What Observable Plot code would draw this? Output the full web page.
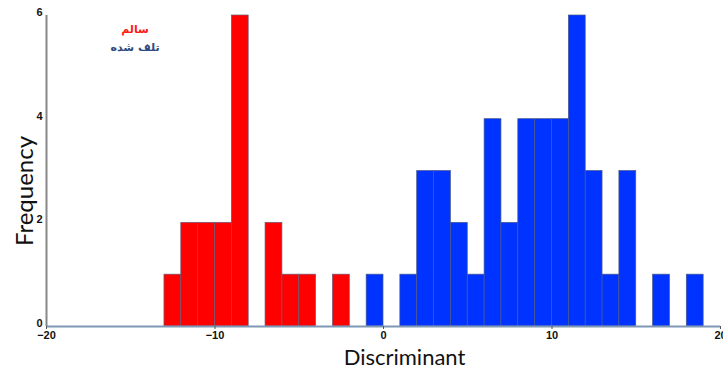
<!DOCTYPE html>
<html>
<head>
<meta charset="utf-8">
<script src="https://cdn.jsdelivr.net/npm/d3@7"></script>
<script src="https://cdn.jsdelivr.net/npm/@observablehq/plot@0.6"></script>
<style>
  html, body { margin: 0; padding: 0; background: #fff; }
  #wrap { position: relative; width: 723px; height: 371px; overflow: hidden; }
  .legend { position: absolute; font-family: "DejaVu Sans", sans-serif; font-weight: bold; font-size: 11px; direction: rtl; text-align: center; width: 80px; }
</style>
</head>
<body>
<div id="wrap">
  <div class="legend" id="lg1" style="left:95px; top:23px; color:#ff1a1a;"></div>
  <div class="legend" id="lg2" style="left:95px; top:41px; color:#2e4a7d;"></div>
</div>
<script>
const seriesNames = ["سالم", "تلف شده"];
const binWidth = 1;
const redBinStart = [-13, -12, -11, -10, -9, -7, -6, -5, -3];
const redCounts   = [1, 2, 2, 2, 6, 2, 1, 1, 1];
const blueBinStart = [-1, 1, 2, 3, 4, 5, 6, 7, 8, 9, 10, 11, 12, 13, 14, 16, 18];
const blueCounts   = [1, 1, 3, 3, 2, 1, 4, 2, 4, 4, 4, 6, 3, 1, 3, 1, 1];
const xTicks = [-20, -10, 0, 10, 20];
const yTicks = [0, 2, 4, 6];

const redData = redBinStart.map((s, i) => ({x1: s, x2: s + binWidth, y: redCounts[i]}));
const blueData = blueBinStart.map((s, i) => ({x1: s, x2: s + binWidth, y: blueCounts[i]}));

document.getElementById("lg1").textContent = seriesNames[0];
document.getElementById("lg2").textContent = seriesNames[1];

const chart = Plot.plot({
  width: 723,
  height: 371,
  marginLeft: 46,
  marginRight: 3,
  marginTop: 15,
  marginBottom: 45,
  style: {fontFamily: "Liberation Sans, Arial, sans-serif", fontSize: "11px", fontWeight: "bold", background: "#fff", overflow: "visible"},
  x: {domain: [-20, 20]},
  y: {domain: [0, 6]},
  marks: [
    Plot.rectY(redData, {x1: "x1", x2: "x2", y: "y", fill: "#ff0000", stroke: "#6a5a7a", strokeWidth: 0.7, inset: 0}),
    Plot.rectY(blueData, {x1: "x1", x2: "x2", y: "y", fill: "#0033ff", stroke: "#4a5a8a", strokeWidth: 0.7, inset: 0}),
    Plot.ruleY([0], {stroke: "#7f97b5", strokeWidth: 2}),
    Plot.ruleX([-20], {stroke: "#888888", strokeWidth: 2}),
    Plot.axisX({ticks: xTicks, tickSize: 3, tickPadding: 2, tickFormat: d3.format("d"), label: null, fill: "#111", stroke: "#555"}),
    Plot.axisY({ticks: yTicks, tickSize: 0, tickPadding: 4, tickFormat: d3.format("d"), label: null, fill: "#111", dy: -3}),
    Plot.text(["Discriminant"], {frameAnchor: "bottom", dy: 38, dx: 21, fontSize: 22, fontWeight: "normal", fontFamily: "Lato, Open Sans, sans-serif", fill: "#111"}),
    Plot.text(["Frequency"], {frameAnchor: "left", textAnchor: "middle", dx: -21, dy: 20, rotate: -90, fontSize: 24, fontWeight: "normal", fontFamily: "Lato, Open Sans, sans-serif", fill: "#111"})
  ]
});
document.getElementById("wrap").prepend(chart);
</script>
</body>
</html>
